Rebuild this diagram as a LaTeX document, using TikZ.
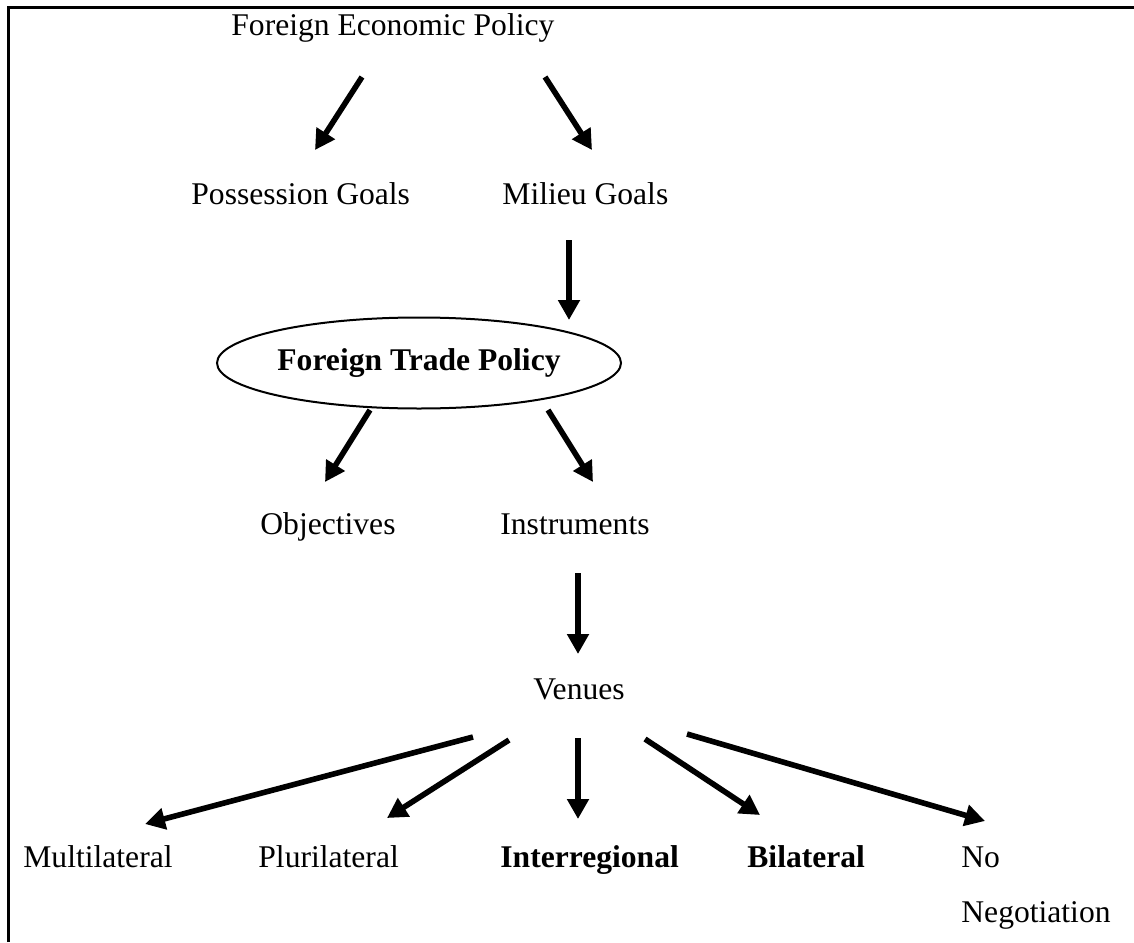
\documentclass[tikz,border=0pt]{standalone}
\usepackage{fontspec}
\setmainfont{Liberation Serif}
\usetikzlibrary{arrows.meta,shapes.geometric}
\begin{document}
\begin{tikzpicture}[x=0.5pt,y=-0.5pt,
  lbl/.style={anchor=base west, inner sep=0pt, font=\fontsize{15.8}{19}\selectfont},
  blbl/.style={lbl, font=\fontsize{15.8}{19}\selectfont\bfseries},
  arr/.style={line width=2.8pt, -{Triangle[length=10pt,width=10.5pt]}},
  oval/.style={draw, ellipse, line width=1pt, inner sep=0pt,
    minimum width=202pt, minimum height=45.5pt,
    font=\fontsize{15.8}{19}\selectfont\bfseries},
  frame/.style={line width=1.3pt}]
\useasboundingbox (0,0) rectangle (1134,942);
\draw[frame] (8.5,942) -- (8.5,7.5) -- (1134,7.5);

% nodes
\node[lbl] (fep) at (231,35) {Foreign Economic Policy};
\node[lbl] (pg)  at (191,204) {Possession Goals};
\node[lbl] (mg)  at (502,204) {Milieu Goals};
\node[oval] (ftp) at (419,363) {Foreign Trade Policy};
\node[lbl] (obj) at (260,534) {Objectives};
\node[lbl] (ins) at (500,534) {Instruments};
\node[lbl] (ven) at (533,699) {Venues};
\node[lbl] (mul) at (23,867) {Multilateral};
\node[lbl] (plu) at (258,867) {Plurilateral};
\node[blbl] (int) at (500,867) {Interregional};
\node[blbl] (bil) at (747,867) {Bilateral};
\node[lbl] (no)  at (961,867) {No};
\node[lbl] (neg) at (961,922) {Negotiation};

% arrow end points
\coordinate (a1s) at (362,77);  \coordinate (a1e) at (315,150);
\coordinate (a2s) at (545,77);  \coordinate (a2e) at (592,150);
\coordinate (a3s) at (569,240); \coordinate (a3e) at (569,320);
\coordinate (a4s) at (370,410); \coordinate (a4e) at (325,482);
\coordinate (a5s) at (548,410); \coordinate (a5e) at (593,482);
\coordinate (a6s) at (578,573); \coordinate (a6e) at (578,654);
\coordinate (a7s) at (473,737); \coordinate (a7e) at (145,824);
\coordinate (a8s) at (509,740); \coordinate (a8e) at (387,818);
\coordinate (a9s) at (578,738); \coordinate (a9e) at (578,819);
\coordinate (a10s) at (645,739); \coordinate (a10e) at (760,815);
\coordinate (a11s) at (687,734); \coordinate (a11e) at (985,821);

\draw[arr] (a1s) -- (a1e);
\draw[arr] (a2s) -- (a2e);
\draw[arr] (a3s) -- (a3e);
\draw[arr] (a4s) -- (a4e);
\draw[arr] (a5s) -- (a5e);
\draw[arr] (a6s) -- (a6e);
\draw[arr] (a7s) -- (a7e);
\draw[arr] (a8s) -- (a8e);
\draw[arr] (a9s) -- (a9e);
\draw[arr] (a10s) -- (a10e);
\draw[arr] (a11s) -- (a11e);
\end{tikzpicture}
\end{document}
